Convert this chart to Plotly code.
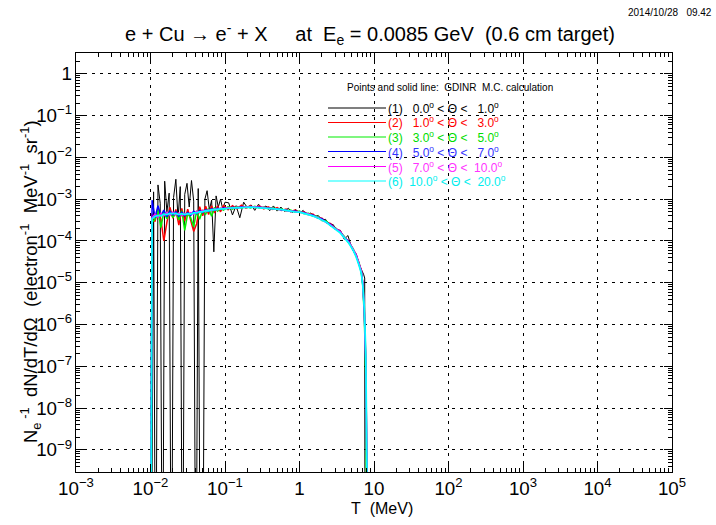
import plotly.graph_objects as go

UNIT = 1e-4          # series values below are in units of 1e-4 electron^-1 MeV^-1 sr^-1
FLOOR = 1e-14        # zero-content bins are drawn below the axis floor

# ---- black series (1): 0-1 deg, fine binning ----
T_black = [0.0102, 0.0110, 0.0117, 0.0126, 0.0135, 0.0145, 0.0155, 0.0166, 0.0178, 0.0191,
           0.0204, 0.0219, 0.0234, 0.0251, 0.0269, 0.0288, 0.0309, 0.0331, 0.0355, 0.0380,
           0.0407, 0.0437, 0.0468, 0.0501, 0.0537, 0.0575, 0.0617, 0.0661, 0.0708, 0.0759,
           0.0813, 0.0871, 0.0933, 0.100,
           0.112, 0.126, 0.141, 0.158, 0.178, 0.200, 0.224, 0.251, 0.282, 0.316,
           0.355, 0.398, 0.447, 0.501, 0.562, 0.631, 0.708, 0.794, 0.891, 1.00,
           1.12, 1.26, 1.41, 1.58, 1.78, 2.00, 2.24, 2.51, 2.82, 3.16,
           3.55, 3.98, 4.47, 5.01, 5.62,
           6.03, 6.46, 6.92, 7.24, 7.50, 7.59]
s1 = [0, 15, 0, 22, 8, 0, 27, 5, 14, 0,
      11, 30, 3.5, 20, 0, 13, 24, 6.5, 28, 9,
      0, 18, 0, 0, 10, 16, 5.5, 9.5, 0.55, 12,
      6.5, 10, 5.8, 8.5,
      8.2, 4.2, 7.0, 3.6, 8.5, 6.2, 7.3, 5.4, 7.6, 6.0,
      6.9, 5.3, 6.9, 5.2, 6.5, 5.1, 6.1, 4.8, 5.7, 4.6,
      5.4, 4.2, 4.7, 3.8, 4.1, 3.2, 3.3, 2.4, 2.5, 1.8,
      1.75, 1.1, 1.35, 0.68, 0.47,
      0.34, 0.24, 0.19, 0.16, 0.13, 0]

# ---- coloured series (2)-(6), common binning ----
T_col = [0.0100, 0.0105, 0.0115, 0.0126, 0.0138, 0.0151, 0.0166, 0.0182, 0.0200, 0.0219,
         0.0240, 0.0263, 0.0288, 0.0316, 0.0347, 0.0380, 0.0417, 0.0457, 0.0501, 0.0550,
         0.0603, 0.0661, 0.0724, 0.0794, 0.0871, 0.0955, 0.110, 0.126, 0.145, 0.166,
         0.191, 0.219, 0.251, 0.288, 0.331, 0.380, 0.437, 0.501, 0.575, 0.661,
         0.759, 0.871, 1.00, 1.15, 1.32, 1.51, 1.74, 2.00, 2.29, 2.63,
         3.02, 3.47, 3.98, 4.57, 5.25, 5.75, 6.31, 6.76, 7.08, 7.41,
         7.76, 8.13, 8.51]
s2 = [0, 4.5, 2.9, 6.2, 3.3, 1.0, 2.8, 6.4, 3.5, 5.7,
      2.4, 6.0, 3.0, 5.8, 3.1, 1.7, 2.6, 6.6, 4.0, 6.8,
      4.3, 7.0, 4.7, 6.9, 5.0, 7.1, 5.6, 7.0, 5.9, 7.2,
      6.1, 7.0, 6.2, 6.9, 5.9, 6.6, 5.7, 6.3, 5.4, 5.8,
      5.0, 5.5, 4.8, 5.0, 4.3, 4.4, 3.6, 3.5, 2.8, 2.6,
      1.95, 1.8, 1.2, 1.0, 0.62, 0.48, 0.28, 0.20, 0.095, 0.025,
      0.0015, 0.00003, 0]
s3 = [0, 2.8, 3.3, 5.6, 2.1, 5.0, 3.4, 5.3, 3.6, 4.9,
      3.2, 5.3, 1.8, 4.6, 3.6, 2.2, 5.3, 3.3, 5.5, 4.4,
      6.0, 3.9, 6.3, 5.2, 6.0, 5.5, 6.6, 5.8, 6.7, 6.1,
      6.8, 6.2, 6.8, 6.2, 6.5, 5.9, 6.3, 5.6, 5.9, 5.2,
      5.5, 4.9, 5.2, 4.5, 4.6, 3.9, 3.9, 3.1, 3.0, 2.3,
      2.1, 1.6, 1.3, 0.90, 0.66, 0.43, 0.30, 0.17, 0.085, 0.015,
      0.0006, 0, 0]
s4 = [0, 9.5, 3.6, 7.0, 4.0, 5.5, 3.8, 5.2, 4.2, 5.0,
      3.9, 4.9, 4.0, 4.8, 4.1, 5.2, 4.5, 5.4, 4.8, 5.6,
      5.1, 5.9, 5.4, 6.1, 5.7, 6.2, 6.0, 6.4, 6.2, 6.6,
      6.4, 6.7, 6.4, 6.5, 6.2, 6.2, 5.9, 5.9, 5.5, 5.5,
      5.1, 5.2, 4.9, 4.8, 4.3, 4.2, 3.6, 3.4, 2.8, 2.5,
      1.95, 1.75, 1.2, 1.0, 0.60, 0.47, 0.27, 0.19, 0.09, 0.02,
      0.001, 0.00001, 0]
s5 = [0, 3.6, 4.4, 3.7, 4.6, 4.0, 4.8, 4.1, 4.9, 4.2,
      4.7, 4.0, 4.6, 4.3, 4.8, 4.4, 5.1, 4.8, 5.4, 5.0,
      5.6, 5.4, 5.9, 5.6, 6.1, 5.9, 6.3, 6.1, 6.4, 6.3,
      6.6, 6.4, 6.6, 6.3, 6.4, 6.0, 6.1, 5.7, 5.7, 5.3,
      5.3, 5.0, 5.0, 4.6, 4.5, 4.0, 3.7, 3.2, 2.9, 2.4,
      2.0, 1.7, 1.25, 0.95, 0.64, 0.46, 0.29, 0.19, 0.095, 0.022,
      0.0012, 0.00002, 0]
s6 = [0, 3.4, 3.9, 4.1, 4.0, 4.4, 4.3, 4.6, 4.5, 4.6,
      4.3, 4.5, 4.3, 4.5, 4.4, 4.7, 4.7, 5.0, 5.0, 5.3,
      5.3, 5.6, 5.6, 5.8, 5.9, 5.9, 6.1, 6.2, 6.2, 6.4,
      6.4, 6.5, 6.4, 6.4, 6.2, 6.1, 5.9, 5.8, 5.6, 5.3,
      5.2, 5.0, 4.9, 4.6, 4.3, 4.0, 3.6, 3.2, 2.8, 2.3,
      1.95, 1.6, 1.2, 0.90, 0.60, 0.42, 0.26, 0.17, 0.085, 0.025,
      0.002, 0.00005, 0]

labels = ["(1)\u00a0\u00a0 0.0<sup>o</sup> < \u0398 <\u00a0\u00a0 1.0<sup>o</sup>",
          "(2)\u00a0\u00a0 1.0<sup>o</sup> < \u0398 <\u00a0\u00a0 3.0<sup>o</sup>",
          "(3)\u00a0\u00a0 3.0<sup>o</sup> < \u0398 <\u00a0\u00a0 5.0<sup>o</sup>",
          "(4)\u00a0\u00a0 5.0<sup>o</sup> < \u0398 <\u00a0\u00a0 7.0<sup>o</sup>",
          "(5)\u00a0\u00a0 7.0<sup>o</sup> < \u0398 <\u00a0 10.0<sup>o</sup>",
          "(6)\u00a0 10.0<sup>o</sup> < \u0398 <\u00a0 20.0<sup>o</sup>"]
colors = ["#000000", "#ff0000", "#00ee00", "#0000ff", "#ff00ff", "#00ffff"]
text_colors = ["#000000", "#ff0000", "#00dd00", "#3333ff", "#ff33ff", "#00eeee"]
widths = [1, 1.5, 1.5, 1.5, 1.5, 1.8]

series = [(T_black, s1), (T_col, s2), (T_col, s3), (T_col, s4), (T_col, s5), (T_col, s6)]

FONT = "Liberation Sans, Arial, Helvetica, sans-serif"

fig = go.Figure()
for (tx, vals), col, lab, w in zip(series, colors, labels, widths):
    fig.add_trace(go.Scatter(
        x=tx, y=[v * UNIT if v > 0 else FLOOR for v in vals],
        mode="lines", line=dict(color=col, width=w), name=lab, showlegend=False))

# plot area in pixels: x 76..672, y 53..472
PL, PR, PT, PB = 76, 672, 53, 472
def px(x):
    return (x - PL) / (PR - PL)
def py(y):
    return (PB - y) / (PB - PT)

shapes = []
annotations = []
# legend header
annotations.append(dict(text="Points and solid line:\u00a0 GDINR\u00a0 M.C. calculation",
                        x=px(345), y=py(87), xref="paper", yref="paper",
                        xanchor="left", yanchor="middle", showarrow=False,
                        font=dict(family=FONT, size=10, color="black")))
rows = [108, 122.5, 137, 151.5, 166.5, 181]
for r, col, tcol, lab in zip(rows, colors, text_colors, labels):
    shapes.append(dict(type="line", xref="paper", yref="paper",
                       x0=px(328), x1=px(386), y0=py(r), y1=py(r),
                       line=dict(color=col, width=1.2)))
    annotations.append(dict(text=lab, x=px(386), y=py(r), xref="paper", yref="paper",
                            xanchor="left", yanchor="middle", showarrow=False,
                            font=dict(family=FONT, size=12, color=tcol)))

# date stamp
annotations.append(dict(text="2014/10/28\u00a0\u00a0 09.42", x=px(714), y=py(12),
                        xref="paper", yref="paper", xanchor="right", yanchor="middle",
                        showarrow=False, font=dict(family=FONT, size=10, color="black")))
# y-axis title
annotations.append(dict(text="N<sub>e</sub><sup> -1</sup>\u00a0 dN/dT/d\u03a9\u00a0 (electron<sup>-1</sup>\u00a0 MeV<sup>-1</sup>\u00a0 sr<sup>-1</sup>)",
                        x=px(30), y=py(282), xref="paper", yref="paper",
                        xanchor="center", yanchor="middle", textangle=-90, showarrow=False,
                        font=dict(family=FONT, size=18.5, color="black")))
# x-axis title
annotations.append(dict(text="T\u00a0 (MeV)", x=px(382), y=py(508), xref="paper", yref="paper",
                        xanchor="center", yanchor="middle", showarrow=False,
                        font=dict(family=FONT, size=16, color="black")))

axis_common = dict(type="log", tickmode="linear", dtick=1, tick0=0,
                   exponentformat="power", showline=True, linecolor="black", linewidth=1,
                   mirror="ticks", ticks="inside", ticklen=8, tickcolor="black",
                   showgrid=True, gridcolor="black", gridwidth=1, griddash="3px,5px",
                   zeroline=False, tickfont=dict(family=FONT, size=15, color="black"),
                   minor=dict(ticks="inside", ticklen=4, tickcolor="black", showgrid=False))

fig.update_layout(
    width=716, height=525,
    margin=dict(l=PL, r=716 - PR, t=PT, b=525 - PB, autoexpand=False),
    paper_bgcolor="white", plot_bgcolor="white",
    title=dict(text="e + Cu \u2192 e<sup>-</sup> + X\u00a0\u00a0\u00a0\u00a0 at\u00a0 E<sub>e</sub> = 0.0085 GeV\u00a0 (0.6 cm target)",
               x=370 / 716, xanchor="center",
               y=1 - 34 / 525, yanchor="middle",
               font=dict(family=FONT, size=20, color="black")),
    xaxis=dict(range=[-3, 5], **axis_common),
    yaxis=dict(range=[-9.53, 0.5], **axis_common),
    shapes=shapes, annotations=annotations, showlegend=False,
)

fig.write_html("out.html")
